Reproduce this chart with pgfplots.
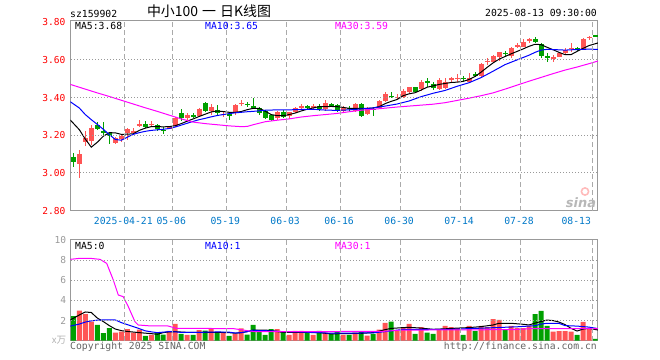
\documentclass[border=0pt]{standalone}
\usepackage{pgfplots}
\pgfplotsset{compat=1.18}
\usepackage{pgfplotstable}
\usepackage{fontspec}
\setmainfont{DejaVu Sans Mono}
\setmonofont{DejaVu Sans Mono}
\newfontfamily\cjk{Noto Sans CJK SC}
\newfontfamily\logofont{DejaVu Sans}

\definecolor{cred}{RGB}{255,85,85}
\definecolor{cgreen}{RGB}{0,160,0}
\definecolor{cblue}{RGB}{0,0,255}
\definecolor{cmag}{RGB}{255,0,255}
\definecolor{cframe}{RGB}{153,153,153}
\definecolor{cgrid}{RGB}{170,170,170}
\definecolor{cdate}{RGB}{0,120,200}
\definecolor{ccopy}{RGB}{100,100,100}

\pgfplotstableread{
i o h l c u v
0 3.086 3.105 3.033 3.058 0 2.45
1 3.048 3.122 2.975 3.101 1 2.98
2 3.165 3.222 3.145 3.186 1 2.65
3 3.171 3.255 3.149 3.237 1 1.89
4 3.257 3.269 3.228 3.235 0 1.56
5 3.220 3.269 3.200 3.215 0 0.76
6 3.210 3.216 3.152 3.197 0 1.26
7 3.161 3.193 3.155 3.184 1 0.80
8 3.182 3.207 3.166 3.196 1 0.90
9 3.210 3.237 3.175 3.232 1 1.16
10 3.215 3.237 3.208 3.222 1 0.80
11 3.252 3.281 3.242 3.258 1 1.10
12 3.258 3.277 3.237 3.246 0 0.47
13 3.256 3.276 3.246 3.262 1 0.57
14 3.255 3.258 3.224 3.232 0 0.80
15 3.230 3.242 3.208 3.226 0 0.60
16 3.237 3.250 3.232 3.243 1 0.97
17 3.249 3.299 3.246 3.292 1 1.66
18 3.320 3.340 3.277 3.290 0 0.67
19 3.292 3.320 3.281 3.308 1 0.57
20 3.306 3.316 3.290 3.302 0 0.57
21 3.302 3.343 3.299 3.340 1 1.06
22 3.373 3.378 3.325 3.329 0 1.00
23 3.329 3.364 3.308 3.350 1 1.23
24 3.334 3.361 3.304 3.317 0 0.83
25 3.309 3.322 3.299 3.313 1 0.80
26 3.310 3.316 3.281 3.306 0 0.47
27 3.325 3.364 3.308 3.360 1 0.67
28 3.368 3.387 3.357 3.372 1 1.23
29 3.366 3.375 3.352 3.362 0 0.60
30 3.354 3.400 3.340 3.350 0 1.56
31 3.343 3.352 3.308 3.320 0 0.86
32 3.329 3.334 3.286 3.290 0 0.57
33 3.308 3.311 3.277 3.281 0 1.16
34 3.293 3.329 3.281 3.325 1 1.16
35 3.325 3.334 3.293 3.299 0 0.86
36 3.304 3.325 3.285 3.322 1 0.57
37 3.325 3.352 3.316 3.346 1 0.97
38 3.350 3.364 3.340 3.354 1 0.97
39 3.354 3.362 3.338 3.350 0 0.76
40 3.350 3.366 3.334 3.354 1 0.57
41 3.357 3.364 3.329 3.338 0 0.97
42 3.338 3.387 3.329 3.373 1 0.80
43 3.363 3.373 3.352 3.359 0 0.67
44 3.361 3.364 3.325 3.334 0 0.96
45 3.330 3.357 3.325 3.346 1 0.57
46 3.345 3.357 3.330 3.341 0 0.57
47 3.330 3.370 3.325 3.364 1 0.80
48 3.364 3.370 3.299 3.302 0 0.96
49 3.313 3.352 3.308 3.343 1 0.50
50 3.340 3.352 3.304 3.336 0 0.67
51 3.343 3.387 3.340 3.382 1 1.10
52 3.382 3.428 3.378 3.419 1 1.76
53 3.409 3.428 3.396 3.405 0 1.89
54 3.401 3.420 3.390 3.405 1 0.96
55 3.405 3.444 3.396 3.435 1 1.29
56 3.428 3.458 3.423 3.455 1 1.66
57 3.455 3.458 3.423 3.431 0 0.67
58 3.446 3.493 3.435 3.484 1 1.36
59 3.485 3.502 3.458 3.481 0 0.80
60 3.470 3.481 3.440 3.449 0 0.67
61 3.446 3.502 3.440 3.493 1 1.16
62 3.449 3.506 3.446 3.481 1 1.46
63 3.497 3.511 3.484 3.501 1 1.36
64 3.500 3.524 3.484 3.504 1 1.26
65 3.504 3.516 3.490 3.500 0 0.57
66 3.484 3.530 3.481 3.506 1 1.46
67 3.522 3.538 3.508 3.518 0 0.96
68 3.516 3.582 3.511 3.577 1 1.46
69 3.592 3.608 3.573 3.596 1 1.36
70 3.587 3.626 3.582 3.621 1 2.15
71 3.617 3.643 3.594 3.640 1 2.06
72 3.637 3.649 3.614 3.633 0 1.16
73 3.622 3.670 3.608 3.665 1 1.46
74 3.673 3.688 3.663 3.677 1 1.26
75 3.670 3.711 3.666 3.697 1 1.26
76 3.704 3.715 3.688 3.708 1 1.46
77 3.711 3.723 3.688 3.693 0 2.65
78 3.684 3.688 3.608 3.622 0 2.95
79 3.619 3.635 3.590 3.615 0 1.46
80 3.610 3.624 3.589 3.614 1 0.90
81 3.617 3.643 3.613 3.638 1 0.96
82 3.638 3.661 3.630 3.652 1 0.96
83 3.659 3.688 3.643 3.663 1 0.90
84 3.660 3.670 3.649 3.656 0 0.57
85 3.658 3.718 3.652 3.711 1 1.86
86 3.718 3.728 3.706 3.722 1 1.26
87 3.729 3.729 3.725 3.725 0 0.17
}\kdata

\pgfplotstableread{
x m
0 3.281
1.5 3.23
2.5 3.18
3.5 3.137
4.5 3.163
5.5 3.195
6.5 3.214
7.5 3.213
8.5 3.205
9.5 3.206
10.5 3.208
11.5 3.226
12.5 3.238
13.5 3.246
14.5 3.246
15.5 3.245
16.5 3.246
17.5 3.251
18.5 3.262
19.5 3.275
20.5 3.287
21.5 3.300
22.5 3.312
23.5 3.324
24.5 3.329
25.5 3.326
26.5 3.322
27.5 3.322
28.5 3.326
29.5 3.336
30.5 3.343
31.5 3.343
32.5 3.328
33.5 3.310
34.5 3.304
35.5 3.304
36.5 3.310
37.5 3.318
38.5 3.329
39.5 3.338
40.5 3.345
41.5 3.352
42.5 3.352
43.5 3.353
44.5 3.352
45.5 3.348
46.5 3.343
47.5 3.343
48.5 3.343
49.5 3.343
50.5 3.345
51.5 3.352
52.5 3.368
53.5 3.380
54.5 3.390
55.5 3.410
56.5 3.420
57.5 3.426
58.5 3.440
59.5 3.455
60.5 3.462
61.5 3.470
62.5 3.475
63.5 3.480
64.5 3.482
65.5 3.486
66.5 3.496
67.5 3.512
68.5 3.535
69.5 3.560
70.5 3.584
71.5 3.604
72.5 3.618
73.5 3.632
74.5 3.645
75.5 3.658
76.5 3.672
77.5 3.683
78.5 3.681
79.5 3.667
80.5 3.654
81.5 3.640
82.5 3.628
83.5 3.628
84.5 3.645
85.5 3.661
86.5 3.676
88 3.690
}\mafive

\pgfplotstableread{
x m
0 3.378
1.5 3.345
2.5 3.310
3.5 3.283
4.5 3.258
5.5 3.232
6.5 3.204
7.5 3.178
8.5 3.174
9.5 3.190
10.5 3.205
11.5 3.214
12.5 3.221
13.5 3.226
14.5 3.229
15.5 3.232
16.5 3.236
17.5 3.244
18.5 3.254
19.5 3.264
20.5 3.274
21.5 3.283
22.5 3.290
23.5 3.298
24.5 3.305
25.5 3.310
26.5 3.315
27.5 3.319
28.5 3.322
29.5 3.325
30.5 3.327
32.5 3.333
34.5 3.335
36.5 3.335
38.5 3.337
40.5 3.338
42.5 3.334
44.5 3.332
46.5 3.335
48.5 3.340
50.5 3.345
52.5 3.355
54.5 3.366
56.5 3.382
58.5 3.405
60.5 3.423
62.5 3.438
64.5 3.460
66.5 3.479
68.5 3.506
70.5 3.540
72.5 3.575
74.5 3.600
76.5 3.625
77.5 3.640
78.5 3.652
79.5 3.656
80.5 3.655
82.5 3.652
84.5 3.655
86.5 3.657
88 3.656
}\maten

\pgfplotstableread{
x m
0 3.470
2.5 3.445
4.5 3.425
6.5 3.406
8.5 3.386
10.5 3.366
12.5 3.346
14.5 3.327
16.5 3.307
18.5 3.287
20.5 3.270
22.5 3.262
24.5 3.256
26.5 3.250
28.5 3.246
29.5 3.247
30.5 3.256
32.5 3.272
34.5 3.280
36.5 3.287
38.5 3.297
40.5 3.304
42.5 3.310
44.5 3.316
46.5 3.325
48.5 3.333
50.5 3.338
52.5 3.344
54.5 3.350
56.5 3.355
58.5 3.360
60.5 3.365
62.5 3.373
64.5 3.385
66.5 3.397
68.5 3.410
70.5 3.425
72.5 3.445
74.5 3.466
76.5 3.487
78.5 3.507
80.5 3.527
82.5 3.546
84.5 3.562
86.5 3.580
88 3.594
}\mathirty

\pgfplotstableread{
x m
0 2.06
1.5 2.55
2.5 2.85
3.5 2.80
4.5 2.25
5.5 1.90
6.5 1.50
7.5 1.16
8.5 1.00
9.5 0.92
10.5 0.86
11.5 0.80
12.5 0.75
13.5 0.70
14.5 0.64
15.5 0.80
16.5 0.88
17.5 0.90
18.5 0.86
19.5 0.83
21.5 0.83
24.5 0.83
26.5 0.80
27.5 0.74
28.5 0.80
29.5 0.90
30.5 1.05
32.5 1.06
33.5 1.00
34.5 0.90
35.5 0.83
38.5 0.83
41.5 0.80
43.5 0.68
45.5 0.70
48.5 0.73
50.5 0.80
51.5 0.95
52.5 1.10
53.5 1.22
55.5 1.30
56.5 1.33
58.5 1.25
60.5 1.13
62.5 1.18
64.5 1.25
66.5 1.30
68.5 1.40
70.5 1.56
71.5 1.73
73.5 1.73
75.5 1.63
76.5 1.56
77.5 1.75
78.5 1.90
79.5 2.05
80.5 2.00
81.5 1.85
82.5 1.60
83.5 1.23
84.5 0.96
85.5 1.15
86.5 1.23
88 1.06
}\vmafive

\pgfplotstableread{
x m
0 1.45
1.5 1.65
2.5 1.85
3.5 1.97
4.5 2.04
5.5 2.06
7.5 2.06
8.5 1.80
9.5 1.60
10.5 1.40
11.5 1.20
12.5 0.98
13.5 0.88
14.5 0.80
15.5 0.85
16.5 0.90
17.5 0.88
18.5 0.82
20.5 0.83
22.5 0.84
24.5 0.87
26.5 0.85
27.5 0.76
28.5 0.80
29.5 0.90
30.5 1.05
31.5 1.00
33.5 0.98
35.5 0.90
37.5 0.88
39.5 0.84
41.5 0.80
43.5 0.74
46.5 0.75
50.5 0.78
52.5 0.90
54.5 1.05
55.5 1.13
60.5 1.13
63.5 1.13
66.5 1.20
70.5 1.29
74.5 1.38
77.5 1.49
78.5 1.65
79.5 1.73
81.5 1.72
82.5 1.50
84.5 1.45
86.5 1.35
88 1.20
}\vmaten

\pgfplotstableread{
x m
0 8.08
1.6 8.18
3.3 8.18
4.95 8.08
6.07 7.68
7.17 6.03
8.0 4.54
8.83 4.37
9.67 3.38
10.78 1.89
11.33 1.56
13.3 1.47
16.3 1.46
17.7 1.23
27.2 1.20
28.8 1.06
30.7 0.90
52 0.92
55 1.05
74 1.10
77 1.20
88 1.20
}\vmathirty

\pgfplotsset{
  kbase/.style={
    scale only axis, width=527.7bp,
    xmin=0, xmax=88,
    axis line style={draw=cframe, line width=1bp},
    xtick={9,17,26,36,45,55,65,75,87},
    major tick length=0pt,
    clip=true,
  },
  wick/.style={forget plot, draw=none, mark=none,
    error bars/.cd, y dir=both, y explicit, error mark=none,
    error bar style={draw=#1, line width=1bp, line cap=butt}},
  body/.style={forget plot, draw=none, mark=none,
    error bars/.cd, y dir=both, y explicit, error mark=none,
    error bar style={draw=#1, line width=5bp, line cap=butt}},
}

\begin{document}
\begin{tikzpicture}
\useasboundingbox (0,0) rectangle (660bp,360bp);

% ---------- price panel ----------
\begin{axis}[kbase,
  at={(70.3bp,149.3bp)}, anchor=south west, height=190bp,
  ymin=2.80, ymax=3.808,
  ytick={2.8,3.0,3.2,3.4,3.6,3.8},
  yticklabels={2.80,3.00,3.20,3.40,3.60,3.80},
  yticklabel style={font=\fontsize{9.6}{10}\selectfont, text=red, anchor=east, inner sep=0pt, xshift=-4.6bp},
  xticklabels={2025-04-21,05-06,05-19,06-03,06-16,06-30,07-14,07-28,\makebox[0pt][r]{08-13}},
  xticklabel style={font=\fontsize{9.8}{10}\selectfont, text=cdate, anchor=north, inner sep=0pt, yshift=-6.6bp, xshift=-1bp},
]
\addplot[restrict expr to domain={\thisrow{u}}{0.5:1.5}, wick=cred]
  table[x expr=\thisrow{i}+0.5, y expr=(\thisrow{h}+\thisrow{l})/2, y error expr=(\thisrow{h}-\thisrow{l})/2]{\kdata};
\addplot[restrict expr to domain={\thisrow{u}}{0.5:1.5}, body=cred]
  table[x expr=\thisrow{i}+0.5, y expr=(\thisrow{o}+\thisrow{c})/2, y error expr={max(abs(\thisrow{o}-\thisrow{c})/2,0.0027)}]{\kdata};
\addplot[restrict expr to domain={\thisrow{u}}{-0.5:0.5}, wick=cgreen]
  table[x expr=\thisrow{i}+0.5, y expr=(\thisrow{h}+\thisrow{l})/2, y error expr=(\thisrow{h}-\thisrow{l})/2]{\kdata};
\addplot[restrict expr to domain={\thisrow{u}}{-0.5:0.5}, body=cgreen]
  table[x expr=\thisrow{i}+0.5, y expr=(\thisrow{o}+\thisrow{c})/2, y error expr={max(abs(\thisrow{o}-\thisrow{c})/2,0.0027)}]{\kdata};
\addplot[black, line width=1bp, mark=none] table[x=x, y=m]{\mafive};
\addplot[cblue, line width=1bp, mark=none] table[x=x, y=m]{\maten};
\addplot[cmag, line width=1bp, mark=none] table[x=x, y=m]{\mathirty};
\end{axis}

% ---------- volume panel ----------
\begin{axis}[kbase,
  at={(70.3bp,19.3bp)}, anchor=south west, height=100.7bp,
  ymin=0, ymax=10,
  ytick={0,2,4,6,8,10},
  yticklabels={{\cjk\color{black!30}x万},2,4,6,8,10},
  yticklabel style={font=\fontsize{9.6}{10}\selectfont, text=cframe, anchor=east, inner sep=0pt, xshift=-4bp},
  xticklabels={,,,,,,,,},
]
\addplot[ybar, bar width=5bp, bar shift=0pt, fill=cred, draw=none, forget plot,
  restrict expr to domain={\thisrow{u}}{0.5:1.5}]
  table[x expr=\thisrow{i}+0.5, y=v]{\kdata};
\addplot[ybar, bar width=5bp, bar shift=0pt, fill=cgreen, draw=none, forget plot,
  restrict expr to domain={\thisrow{u}}{-0.5:0.5}]
  table[x expr=\thisrow{i}+0.5, y=v]{\kdata};
\addplot[black, line width=1bp, mark=none] table[x=x, y=m]{\vmafive};
\addplot[cblue, line width=1bp, mark=none] table[x=x, y=m]{\vmaten};
\addplot[cmag, line width=1bp, mark=none] table[x=x, y=m]{\vmathirty};
\end{axis}

% ---------- grid (small filled dots and dashes) ----------
\foreach \yy in {186.5,224.2,261.9,299.6,38.9,59.1,79.2,99.4}{
  \foreach \k [evaluate=\k as \xx using 70.8+3*\k] in {0,...,175}{
    \fill[cframe] (\xx bp,\yy bp) rectangle ++(1bp,1bp);
  }
}
\foreach \t [evaluate=\t as \gx using 69.8+6*\t] in {9,17,26,36,45,55,65,75,87}{
  \foreach \k [evaluate=\k as \gy using 149.3+8*\k] in {0,...,23}{
    \fill[cgrid] (\gx bp,\gy bp) rectangle ++(1bp,5bp);
  }
  \foreach \k [evaluate=\k as \gy using 19.3+8*\k] in {0,...,12}{
    \fill[cgrid] (\gx bp,\gy bp) rectangle ++(1bp,5bp);
  }
}

% ---------- texts ----------
\begingroup
\fontsize{9.8}{10}\selectfont
\node[anchor=base west, inner sep=0pt] at (70bp,342.7bp) {sz159902};
\node[anchor=base east, inner sep=0pt] at (597bp,343.3bp) {2025-08-13 09:30:00};
\node[anchor=base west, inner sep=0pt, text=black] at (75bp,330bp) {MA5:3.68};
\node[anchor=base west, inner sep=0pt, text=cblue] at (205bp,330bp) {MA10:3.65};
\node[anchor=base west, inner sep=0pt, text=cmag] at (335bp,330bp) {MA30:3.59};
\node[anchor=base west, inner sep=0pt, text=black] at (75bp,110.7bp) {MA5:0};
\node[anchor=base west, inner sep=0pt, text=cblue] at (205bp,110.7bp) {MA10:1};
\node[anchor=base west, inner sep=0pt, text=cmag] at (335bp,110.7bp) {MA30:1};
\node[anchor=base west, inner sep=0pt, text=ccopy] at (70bp,10.5bp) {Copyright 2025 SINA.COM};
\node[anchor=base east, inner sep=0pt, text=ccopy] at (597bp,10.5bp) {http://finance.sina.com.cn};
\endgroup
\node[anchor=base, inner sep=0pt] at (209bp,343bp) {\cjk\fontsize{14}{14}\selectfont 中小100\hspace{4bp}一\hspace{4bp}日K线图};
% sina watermark
\draw[cred!40, line width=1.6bp] (585bp,168.5bp) circle (3.6bp);
\node[inner sep=0pt, text=black!28] at (581bp,157bp) {\logofont\bfseries\itshape\fontsize{13}{13}\selectfont sina};
\end{tikzpicture}
\end{document}
